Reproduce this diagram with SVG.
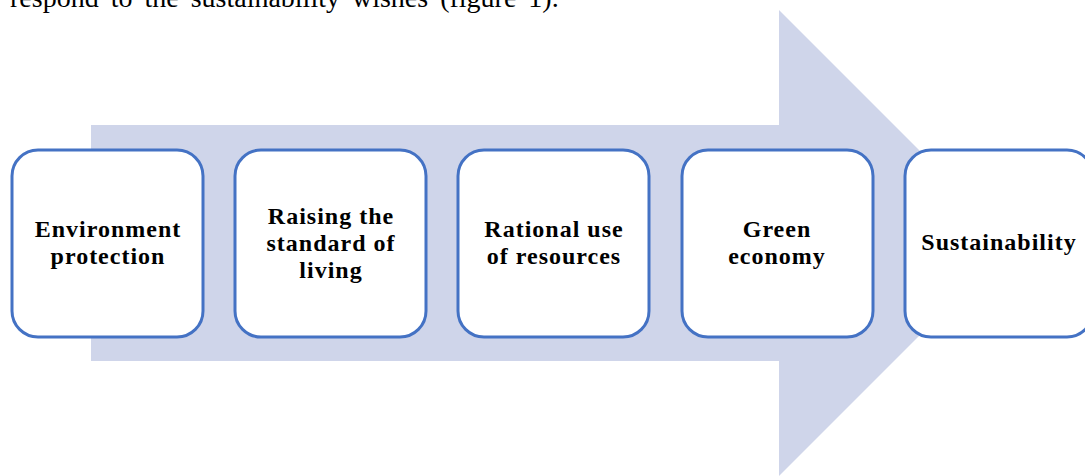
<svg xmlns="http://www.w3.org/2000/svg" width="1085" height="476" viewBox="0 0 1085 476">
<style>
.box{fill:#ffffff;stroke:#4472C4;stroke-width:3}
.lbl{font-family:"Liberation Serif","Times New Roman",serif;font-weight:bold;font-size:24px;letter-spacing:1px;fill:#000;text-anchor:middle}
.para{font-family:"Liberation Serif","Times New Roman",serif;font-size:28px;fill:#000;word-spacing:5px}
</style>
<rect width="1085" height="476" fill="#ffffff"/>
<text class="para" x="10" y="7">respond to the sustainability wishes (figure 1).</text>
<g id="connectors">
<polygon points="91,125 779,125 779,10 1012,243 779,476 779,361 91,361" fill="#CFD5EA"/>
</g>
<g id="node1">
<rect class="box" x="12" y="150" width="191" height="187" rx="26"/>
<text class="lbl" x="108" y="237">Environment</text>
<text class="lbl" x="108" y="264">protection</text>
</g>
<g id="node2">
<rect class="box" x="235" y="150" width="191" height="187" rx="26"/>
<text class="lbl" x="331" y="224">Raising the</text>
<text class="lbl" x="331" y="251">standard of</text>
<text class="lbl" x="331" y="278">living</text>
</g>
<g id="node3">
<rect class="box" x="458" y="150" width="191" height="187" rx="26"/>
<text class="lbl" x="554" y="237">Rational use</text>
<text class="lbl" x="554" y="264">of resources</text>
</g>
<g id="node4">
<rect class="box" x="682" y="150" width="191" height="187" rx="26"/>
<text class="lbl" x="777" y="237">Green</text>
<text class="lbl" x="777" y="264">economy</text>
</g>
<g id="node5">
<rect class="box" x="905" y="150" width="188" height="187" rx="26"/>
<text class="lbl" x="999" y="250">Sustainability</text>
</g>
</svg>
